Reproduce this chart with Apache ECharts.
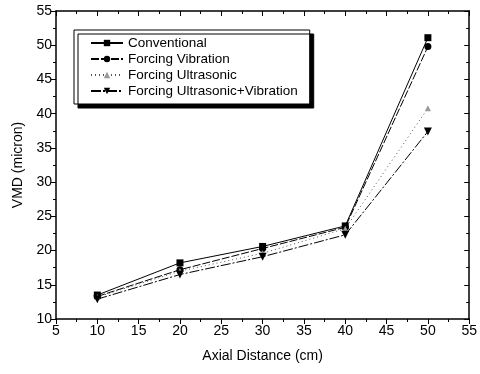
<!DOCTYPE html>
<html>
<head>
<meta charset="utf-8">
<script src="https://cdn.jsdelivr.net/npm/echarts@6/dist/echarts.min.js"></script>
<style>
  html, body { margin: 0; padding: 0; background: #fff; }
  #chart { width: 480px; height: 374px; }
</style>
</head>
<body>
<div id="chart"></div>
<script>
// axial distance (cm)
const distances = [10, 20, 30, 40, 50];
// VMD (micron) per condition
const conventional = [13.5, 18.2, 20.6, 23.6, 51.1];
const forcingVibration = [13.3, 17.2, 20.3, 23.4, 49.8];
const forcingUltrasonic = [13.2, 17.0, 19.6, 23.2, 40.8];
const forcingUltraVib = [12.9, 16.5, 19.1, 22.3, 37.4];

const seriesNames = ['Conventional', 'Forcing Vibration', 'Forcing Ultrasonic', 'Forcing Ultrasonic+Vibration'];

const chart = echarts.init(document.getElementById('chart'));

const font = 'Liberation Sans, Arial, sans-serif';

function pairs(vals) {
  return distances.map((d, i) => [d, vals[i]]);
}

// shared axis look
const baseAxis = {
  interval: 5,
  axisLine: { show: true, onZero: false, lineStyle: { color: '#000', width: 1.5 } },
  splitLine: { show: false },
  minorTick: { show: true, splitNumber: 2, length: 3, lineStyle: { color: '#000' } },
  axisTick: { show: true, length: 5, lineStyle: { color: '#000' } }
};

const option = {
  backgroundColor: '#fff',
  animation: false,
  grid: { left: 56, right: 7, top: 11, bottom: 55 },
  legend: {
    orient: 'vertical',
    left: 74, top: 30,
    padding: [6, 12, 6, 16],
    itemGap: 2,
    itemWidth: 32, itemHeight: 8,
    backgroundColor: '#fff',
    borderColor: '#000', borderWidth: 1,
    shadowColor: '#000', shadowBlur: 0, shadowOffsetX: 4, shadowOffsetY: 4,
    textStyle: { fontFamily: font, fontSize: 13.5, color: '#000' },
    data: seriesNames
  },
  xAxis: [
    Object.assign({}, baseAxis, {
      type: 'value', min: 5, max: 55, position: 'bottom',
      name: 'Axial Distance (cm)', nameLocation: 'middle', nameGap: 30,
      nameTextStyle: { fontFamily: font, fontSize: 14, color: '#000' },
      axisLabel: { fontFamily: font, fontSize: 14, color: '#000', margin: 5 }
    }),
    Object.assign({}, baseAxis, {
      type: 'value', min: 5, max: 55, position: 'top',
      axisLabel: { show: false },
      axisTick: { show: true, inside: true, length: 5, lineStyle: { color: '#000' } }
    })
  ],
  yAxis: [
    Object.assign({}, baseAxis, {
      type: 'value', min: 10, max: 55, position: 'left',
      name: 'VMD (micron)', nameLocation: 'middle', nameGap: 31,
      nameTextStyle: { fontFamily: font, fontSize: 14, color: '#000' },
      axisLabel: { fontFamily: font, fontSize: 14, color: '#000', margin: 4 }
    }),
    Object.assign({}, baseAxis, {
      type: 'value', min: 10, max: 55, position: 'right',
      axisLabel: { show: false },
      axisTick: { show: true, inside: true, length: 5, lineStyle: { color: '#000' } }
    })
  ],
  series: [
    {
      name: seriesNames[0], type: 'line', data: pairs(conventional),
      symbol: 'rect', symbolSize: 7,
      itemStyle: { color: '#000' },
      lineStyle: { color: '#000', width: 1, type: 'solid' }
    },
    {
      name: seriesNames[1], type: 'line', data: pairs(forcingVibration),
      symbol: 'circle', symbolSize: 7,
      itemStyle: { color: '#000' },
      lineStyle: { color: '#000', width: 1, type: [8, 2] }
    },
    {
      name: seriesNames[2], type: 'line', data: pairs(forcingUltrasonic),
      symbol: 'triangle', symbolSize: 6,
      itemStyle: { color: '#999' },
      lineStyle: { color: '#555', width: 1, type: [1, 3] }
    },
    {
      name: seriesNames[3], type: 'line', data: pairs(forcingUltraVib),
      symbol: 'triangle', symbolRotate: 180, symbolSize: 8,
      itemStyle: { color: '#000' },
      lineStyle: { color: '#000', width: 1, type: [10, 2, 2, 2] }
    }
  ]
};

chart.setOption(option);
</script>
</body>
</html>
